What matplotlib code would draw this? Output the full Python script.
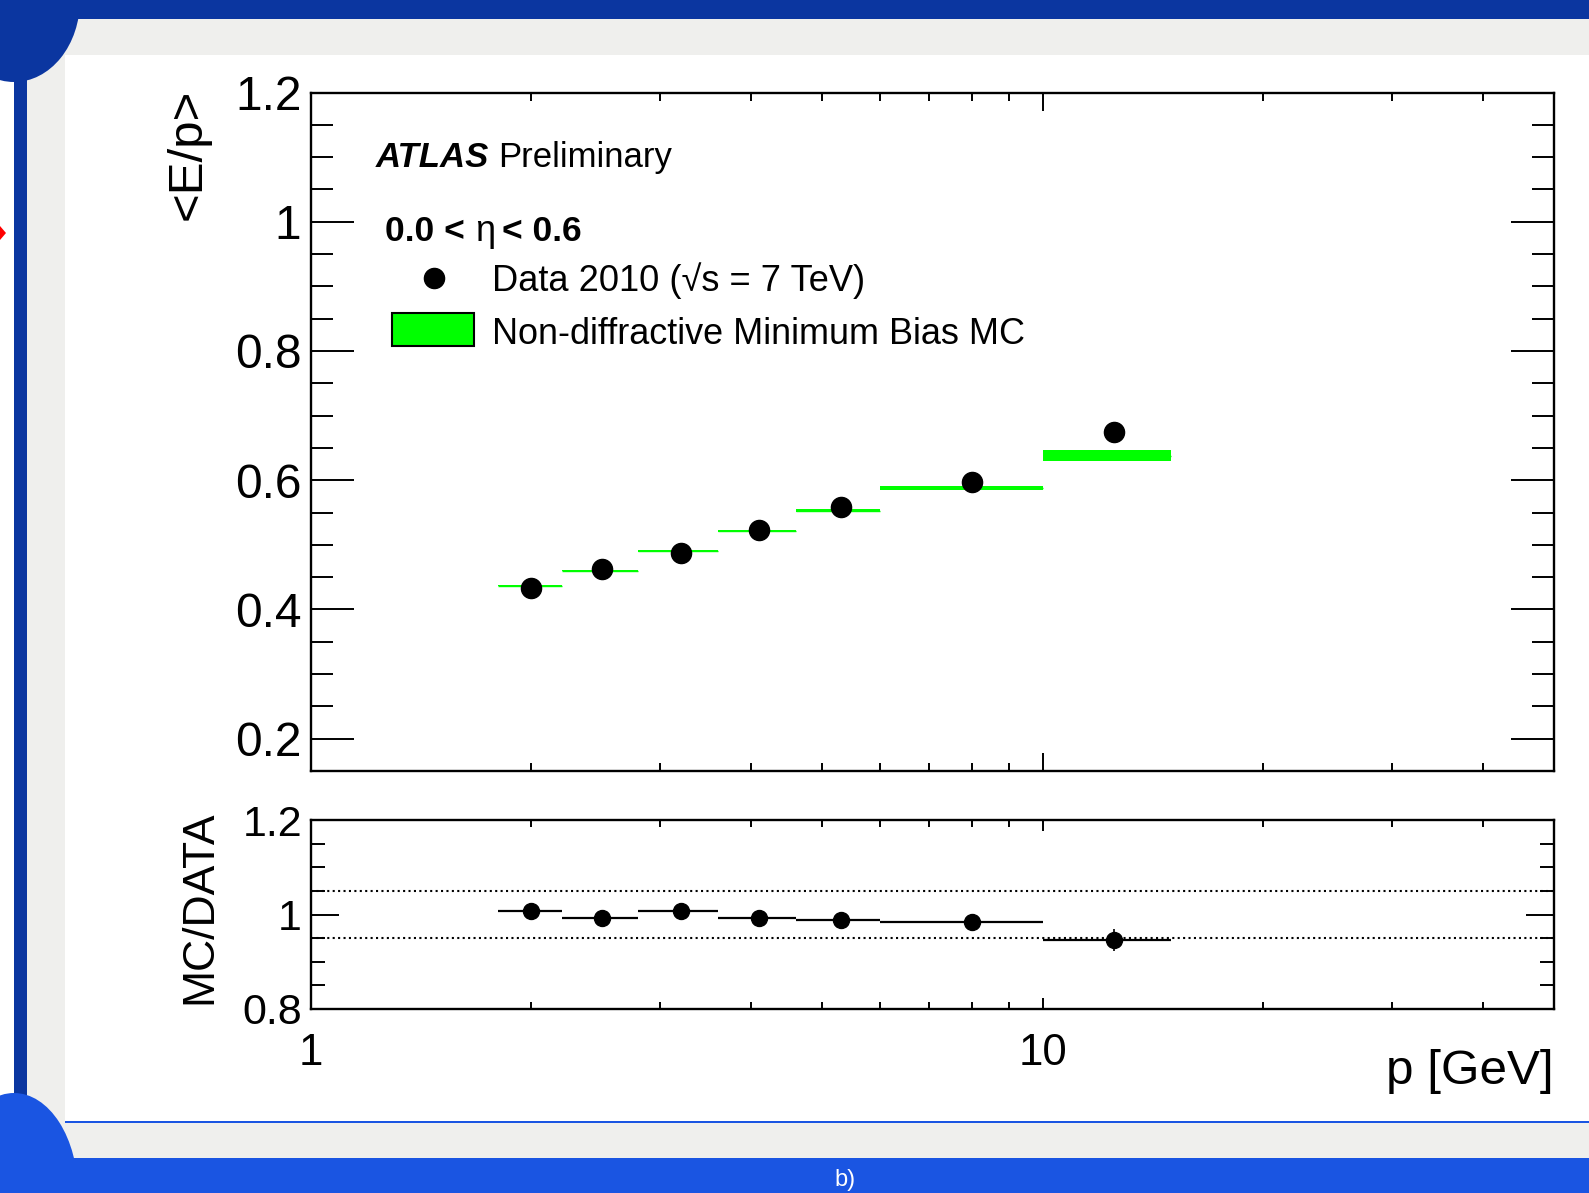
import matplotlib
matplotlib.use('Agg')
import matplotlib.pyplot as plt
from matplotlib.patches import Rectangle, Ellipse, Polygon
from matplotlib.lines import Line2D
from matplotlib.ticker import LogLocator, NullFormatter, MultipleLocator

# ---- data ----
bin_edges = [1.8, 2.2, 2.8, 3.6, 4.6, 6.0, 10.0, 15.0]
p_mean = [2.0, 2.5, 3.2, 4.1, 5.3, 8.0, 12.5]
ep_data = [0.433, 0.463, 0.488, 0.523, 0.559, 0.598, 0.674]
ep_mc = [0.437, 0.460, 0.491, 0.521, 0.553, 0.588, 0.638]
ep_mc_err = [0.0008, 0.0008, 0.0015, 0.0016, 0.0023, 0.0029, 0.0083]
ratio = [1.008, 0.993, 1.007, 0.993, 0.989, 0.984, 0.946]
ratio_err = [0.003, 0.003, 0.004, 0.004, 0.005, 0.007, 0.024]

main_yticks = [0.2, 0.4, 0.6, 0.8, 1.0, 1.2]
main_yticklabels = ['0.2', '0.4', '0.6', '0.8', '1', '1.2']
ratio_yticks = [0.8, 1.0, 1.2]
ratio_yticklabels = ['0.8', '1', '1.2']
xticks = [1, 10]
xticklabels = ['1', '10']

W, H = 1589, 1193
GREEN = '#00ff00'
DARK_BLUE = '#0b36a0'
LIGHT_BLUE = '#1a55e2'
GREY = '#efefed'

plt.rcParams['font.family'] = ['Liberation Sans', 'DejaVu Sans']
plt.rcParams['axes.linewidth'] = 1.7

fig = plt.figure(figsize=(W / 100, H / 100), dpi=100)


def fx(px):
    return px / W


def fy(py):
    return 1 - py / H


# ---- slide frame around the plot ----
def frect(x0, y0, x1, y1, color, z=0):
    fig.patches.append(Rectangle((fx(x0), fy(y1)), fx(x1) - fx(x0), fy(y0) - fy(y1),
                                 transform=fig.transFigure, color=color, zorder=z, lw=0))


frect(14, 0, W, 19, DARK_BLUE)
frect(27, 19, W, 55, GREY)
frect(27, 19, 65, 1123, GREY)
frect(14, 0, 27, 1100, DARK_BLUE)
frect(14, 1100, 27, H, LIGHT_BLUE)
frect(65, 1121, W, 1123, LIGHT_BLUE)
frect(27, 1123, W, 1158, GREY)
frect(27, 1158, W, H, LIGHT_BLUE)
fig.patches.append(Ellipse((fx(14), fy(0)), 2 * 66 / W, 2 * 82 / H, transform=fig.transFigure,
                           color=DARK_BLUE, lw=0, zorder=1))
fig.patches.append(Ellipse((fx(14), fy(H)), 2 * 64 / W, 2 * 100 / H, transform=fig.transFigure,
                           color=LIGHT_BLUE, lw=0, zorder=1))
fig.patches.append(Polygon([(fx(0), fy(226)), (fx(6), fy(233)), (fx(0), fy(240))],
                           transform=fig.transFigure, color='red', lw=0, zorder=1))
fig.text(fx(845), fy(1191), 'b)', color='white', fontsize=17, ha='center', va='bottom')

# ---- main panel ----
ax = fig.add_axes([fx(311), fy(771), fx(1554) - fx(311), fy(92.5) - fy(771)])
ax2 = fig.add_axes([fx(311), fy(1009), fx(1554) - fx(311), fy(820) - fy(1009)])

for i in range(len(p_mean)):
    lo, hi = bin_edges[i], bin_edges[i + 1]
    ax.fill_between([lo, hi], ep_mc[i] - ep_mc_err[i], ep_mc[i] + ep_mc_err[i],
                    color=GREEN, lw=0, zorder=2)
ax.hlines(ep_mc, bin_edges[:-1], bin_edges[1:], color=GREEN, lw=1.0, zorder=2)
ax.plot(p_mean, ep_data, 'o', color='black', ms=14.5, zorder=3)

ax.set_xscale('log')
ax.set_xlim(1, 50)
ax.set_ylim(0.15, 1.2)
ax.set_yticks(main_yticks, main_yticklabels)
ax.yaxis.set_minor_locator(MultipleLocator(0.05))
ax.xaxis.set_major_locator(LogLocator(base=10))
ax.xaxis.set_minor_locator(LogLocator(base=10, subs=range(2, 10)))
ax.xaxis.set_minor_formatter(NullFormatter())
ax.tick_params(axis='y', which='major', direction='in', length=31, width=1.4,
               labelsize=34.5, pad=7, left=True, right=True)
ax.tick_params(axis='y', which='minor', direction='in', length=16, width=1.4,
               left=True, right=True)
ax.tick_params(axis='x', which='major', direction='in', length=13, width=1.4,
               top=True, bottom=True, labelbottom=False)
ax.tick_params(axis='x', which='minor', direction='in', length=6, width=1.4,
               top=True, bottom=True)

# ---- ratio panel ----
ax2.hlines(ratio, bin_edges[:-1], bin_edges[1:], color='black', lw=1.6, zorder=2)
ax2.errorbar(p_mean, ratio, yerr=ratio_err, fmt='o', color='black', ms=11.5,
             elinewidth=1.2, capsize=0, zorder=3)
for lvl in (1.05, 0.95):
    ax2.axhline(lvl, color='black', lw=1.5, ls=(0, (1, 1.6)), zorder=1)

ax2.set_xscale('log')
ax2.set_xlim(1, 50)
ax2.set_ylim(0.8, 1.2)
ax2.set_xticks(xticks, xticklabels)
ax2.xaxis.set_minor_locator(LogLocator(base=10, subs=range(2, 10)))
ax2.xaxis.set_minor_formatter(NullFormatter())
ax2.set_yticks(ratio_yticks, ratio_yticklabels)
ax2.yaxis.set_minor_locator(MultipleLocator(0.05))
ax2.tick_params(axis='y', which='major', direction='in', length=20, width=1.4,
                labelsize=31, pad=6.5, left=True, right=True)
ax2.tick_params(axis='y', which='minor', direction='in', length=10, width=1.4,
                left=True, right=True)
ax2.tick_params(axis='x', which='major', direction='in', length=8, width=1.4,
                labelsize=31.5, pad=17, top=True, bottom=True)
ax2.tick_params(axis='x', which='minor', direction='in', length=5, width=1.4,
                top=True, bottom=True)

# ---- axis titles ----
fig.text(fx(188.5), fy(89), '<E/p>', rotation=90, ha='center', va='top', fontsize=35.5)
fig.text(fx(200), fy(811), 'MC/DATA', rotation=90, ha='center', va='top', fontsize=32)
fig.text(fx(1554), fy(1084), 'p [GeV]', ha='right', va='baseline', fontsize=35.6)

# ---- labels and legend ----
fig.text(fx(376), fy(167), 'ATLAS', fontsize=25, fontweight='bold', fontstyle='italic',
         va='baseline')
fig.text(fx(498.5), fy(167), 'Preliminary', fontsize=25, va='baseline')
fig.text(fx(385), fy(241), '0.0 <', fontsize=25.5, fontweight='bold', va='baseline')
fig.text(fx(475), fy(241), 'η', fontsize=26, va='baseline')
fig.text(fx(502), fy(241), '< 0.6', fontsize=25.5, fontweight='bold', va='baseline')
fig.lines.append(Line2D([fx(434)], [fy(278)], marker='o', color='black', ms=14.5,
                        transform=fig.transFigure))
fig.text(fx(491.5), fy(291), 'Data 2010 (√s = 7 TeV)', fontsize=26.1, va='baseline')
fig.patches.append(Rectangle((fx(392), fy(346)), fx(474) - fx(392), fy(313) - fy(346),
                             transform=fig.transFigure, facecolor=GREEN, edgecolor='black',
                             lw=1.5))
fig.text(fx(491.5), fy(343.5), 'Non-diffractive Minimum Bias MC', fontsize=25.9,
         va='baseline')

fig.savefig('out.png', dpi=100)
